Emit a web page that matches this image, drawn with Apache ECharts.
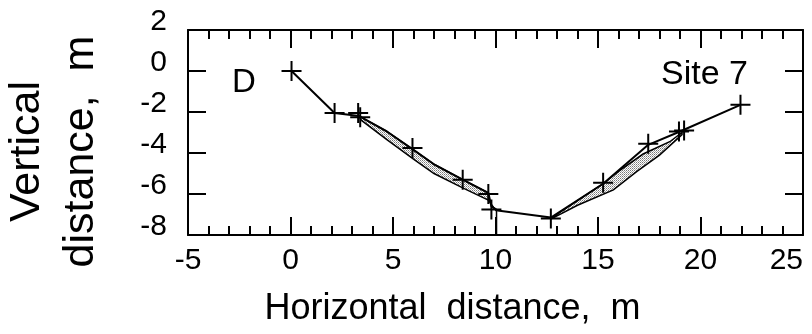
<!DOCTYPE html>
<html>
<head>
<meta charset="utf-8">
<script src="https://cdn.jsdelivr.net/npm/echarts@6/dist/echarts.min.js"></script>
<style>
  html, body { margin: 0; padding: 0; background: #fff; }
  #chart { width: 812px; height: 334px; }
</style>
</head>
<body>
<div id="chart"></div>
<script>
// survey points (+ markers), metres
const surveyPoints = [
  [0.05, 0.0], [2.15, -2.05], [3.3, -2.05], [3.4, -2.25], [5.95, -3.75],
  [8.4, -5.3], [9.65, -6.0], [9.8, -6.75], [12.7, -7.2], [15.25, -5.45],
  [17.45, -3.55], [18.95, -2.95], [19.2, -2.9], [21.95, -1.65]
];

// main profile line
const mainProfile = [
  [0.05, 0.0], [2.15, -2.05], [3.35, -2.2], [4.7, -2.95], [6.0, -3.85],
  [7.0, -4.55], [8.4, -5.3], [9.65, -5.95], [9.8, -6.6], [10.1, -6.8],
  [12.7, -7.15], [15.25, -5.5], [17.45, -3.6], [19.0, -2.95], [21.95, -1.65]
];

// shaded bands between two profiles
const leftBandUpper = [[3.35, -2.2], [4.7, -2.95], [6.0, -3.85], [7.0, -4.55], [8.4, -5.3], [9.65, -5.95]];
const leftBandLower = [[3.45, -2.4], [4.7, -3.35], [6.0, -4.3], [7.0, -5.0], [8.4, -5.7], [9.65, -6.3]];
const rightBandUpper = [[12.75, -7.15], [15.25, -5.5], [16.0, -4.9], [17.2, -4.05], [18.5, -3.45], [19.1, -3.0]];
const rightBandLower = [[12.75, -7.2], [14.0, -6.55], [15.75, -5.8], [16.9, -4.9], [18.0, -4.1], [19.1, -3.1]];

const dropLine = [[9.65, -6.3], [10.05, -6.85], [10.05, -8.0]];

const bands = [
  { upper: leftBandUpper, lower: leftBandLower },
  { upper: rightBandUpper, lower: rightBandLower }
];

// stipple pattern
const pat = document.createElement("canvas");
pat.width = 2; pat.height = 2;
const pctx = pat.getContext("2d");
pctx.fillStyle = "#fff"; pctx.fillRect(0, 0, 2, 2);
pctx.fillStyle = "#777"; pctx.fillRect(0, 0, 1, 1);
pctx.fillStyle = "#aaa"; pctx.fillRect(1, 1, 1, 1);

const font = "Liberation Sans, Arial, Helvetica, sans-serif";

const xBase = {
  type: "value", min: -5, max: 25, interval: 5,
  axisLine: { onZero: false, lineStyle: { color: "#000", width: 2 } },
  axisTick: { inside: true, length: 18, lineStyle: { color: "#000", width: 2 } },
  minorTick: { show: true, splitNumber: 5, length: 9, lineStyle: { color: "#000", width: 2 } },
  splitLine: { show: false }
};
const yBase = {
  type: "value", min: -8, max: 2, interval: 2,
  axisLine: { onZero: false, lineStyle: { color: "#000", width: 2 } },
  axisTick: { inside: true, length: 18, lineStyle: { color: "#000", width: 2 } },
  splitLine: { show: false }
};

const chart = echarts.init(document.getElementById("chart"), null, { renderer: "canvas" });

chart.setOption({
  animation: false,
  backgroundColor: "#fff",
  grid: { left: 188, right: 9, top: 30, bottom: 99, containLabel: false, outerBoundsMode: "none" },
  xAxis: [
    Object.assign({}, xBase, {
      position: "bottom",
      axisLabel: { color: "#000", fontFamily: font, fontSize: 30, margin: 11, alignMaxLabel: "right" },
      name: "Horizontal  distance,  m",
      nameLocation: "middle",
      nameGap: 56,
      nameTextStyle: { color: "#000", fontFamily: font, fontSize: 36, padding: [0, 86, 0, 0] }
    }),
    Object.assign({}, xBase, { position: "top", axisLabel: { show: false } })
  ],
  yAxis: [
    Object.assign({}, yBase, {
      position: "left",
      axisLabel: { color: "#000", fontFamily: font, fontSize: 30, margin: 21, verticalAlign: "bottom", lineHeight: 16 },
      name: "Vertical\ndistance,  m",
      nameLocation: "middle",
      nameRotate: 90,
      nameGap: 80,
      nameTextStyle: { color: "#000", fontFamily: font, fontSize: 43, lineHeight: 54, padding: [0, 38, 0, 0] }
    }),
    Object.assign({}, yBase, { position: "right", axisLabel: { show: false } })
  ],
  series: [
    {
      type: "custom",
      data: bands.map((b) => b.upper[0]),
      renderItem: (params, api) => {
        const b = bands[params.dataIndex];
        const pts = b.upper.concat(b.lower.slice().reverse()).map((p) => api.coord(p));
        return {
          type: "polygon",
          shape: { points: pts },
          style: { fill: { image: pat, repeat: "repeat" }, stroke: "#000", lineWidth: 1.5 }
        };
      },
      z: 2
    },
    {
      type: "line",
      data: dropLine,
      symbol: "none",
      lineStyle: { color: "#000", width: 1.5 },
      z: 3
    },
    {
      type: "line",
      data: mainProfile,
      symbol: "none",
      lineStyle: { color: "#000", width: 2 },
      z: 4
    },
    {
      type: "scatter",
      data: surveyPoints,
      symbol: "path://M9,0H11V20H9Z M0,9H20V11H0Z",
      symbolSize: 20,
      itemStyle: { color: "#000", opacity: 1 },
      z: 5
    }
  ],
  graphic: [
    { type: "text", left: 232, top: 66, style: { text: "D", fill: "#000", font: "33px " + font } },
    { type: "text", left: 661, top: 58, style: { text: "Site 7", fill: "#000", font: "34px " + font } }
  ]
});
</script>
</body>
</html>
